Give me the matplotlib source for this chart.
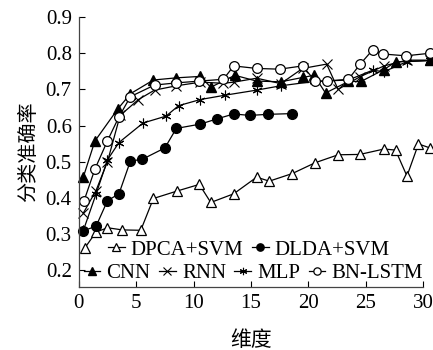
import matplotlib
matplotlib.use('Agg')
import matplotlib.pyplot as plt

plt.rcParams['font.family'] = ['Liberation Serif', 'Noto Sans CJK SC']
plt.rcParams['axes.unicode_minus'] = False

# data
dpca_x = [0.5, 1.5, 2.5, 3.8, 5.4, 6.5, 8.6, 10.5, 11.5, 13.5, 15.5, 16.6, 18.6, 20.6, 22.6, 24.5, 26.6, 27.6, 28.6, 29.6, 30.6]
dpca_y = [0.26, 0.305, 0.317, 0.311, 0.31, 0.398, 0.419, 0.437, 0.387, 0.411, 0.457, 0.446, 0.467, 0.497, 0.519, 0.52, 0.535, 0.532, 0.46, 0.549, 0.538]

dlda_x = [0.4, 1.5, 2.5, 3.5, 4.5, 5.5, 7.5, 8.5, 10.6, 12.0, 13.5, 14.9, 16.5, 18.6]
dlda_y = [0.309, 0.321, 0.392, 0.411, 0.502, 0.506, 0.538, 0.592, 0.604, 0.618, 0.632, 0.628, 0.631, 0.633]

cnn_x = [0.4, 1.4, 3.4, 4.5, 6.5, 8.5, 10.6, 11.5, 13.6, 15.5, 17.6, 19.5, 20.5, 21.5, 23.5, 24.6, 26.6, 27.6, 30.6]
cnn_y = [0.458, 0.557, 0.646, 0.688, 0.726, 0.732, 0.736, 0.706, 0.739, 0.723, 0.721, 0.733, 0.739, 0.69, 0.722, 0.722, 0.755, 0.776, 0.78]

rnn_x = [0.4, 1.5, 2.5, 3.6, 5.2, 6.6, 8.5, 10.6, 12.6, 13.5, 15.5, 17.6, 19.5, 21.6, 22.6, 24.5, 26.6, 28.6, 30.6]
rnn_y = [0.358, 0.42, 0.50, 0.628, 0.672, 0.698, 0.71, 0.72, 0.717, 0.72, 0.731, 0.716, 0.758, 0.77, 0.70, 0.735, 0.765, 0.781, 0.781]

mlp_x = [0.4, 1.5, 2.5, 3.5, 5.6, 7.6, 8.7, 10.6, 12.75, 15.5, 17.6, 20.5, 23.5, 25.6, 26.6, 28.6, 30.6]
mlp_y = [0.31, 0.41, 0.505, 0.553, 0.607, 0.626, 0.655, 0.672, 0.684, 0.698, 0.71, 0.722, 0.726, 0.753, 0.749, 0.777, 0.78]

bn_x = [0.46, 1.4, 2.5, 3.5, 4.5, 6.6, 8.5, 10.5, 12.6, 13.5, 15.5, 17.5, 19.5, 20.6, 21.6, 23.5, 24.5, 25.6, 26.5, 28.5, 30.6]
bn_y = [0.392, 0.479, 0.558, 0.624, 0.68, 0.712, 0.718, 0.723, 0.728, 0.765, 0.758, 0.756, 0.765, 0.723, 0.723, 0.728, 0.769, 0.809, 0.798, 0.793, 0.80]

fig = plt.figure(figsize=(4.33, 3.5), dpi=100)
ax = fig.add_axes([0.182, 0.18, 0.795, 0.771])

kw = dict(color='black', lw=0.9, clip_on=False)
l1, = ax.plot(dpca_x, dpca_y, marker='^', ms=7, mfc='white', mec='black', mew=0.9, label='DPCA+SVM', **kw)
l2, = ax.plot(dlda_x, dlda_y, marker='o', ms=7, mfc='black', mec='black', label='DLDA+SVM', **kw)
l3, = ax.plot(cnn_x, cnn_y, marker='^', ms=7, mfc='black', mec='black', label='CNN', **kw)
l4, = ax.plot(rnn_x, rnn_y, marker='x', ms=7, mec='black', mew=0.8, label='RNN', **kw)
l5, = ax.plot(mlp_x, mlp_y, marker=(6, 2, 0), ms=7, mec='black', mew=0.8, label='MLP', **kw)
l6, = ax.plot(bn_x, bn_y, marker='o', ms=7, mfc='white', mec='black', mew=0.9, label='BN-LSTM', **kw)

ax.set_xlim(0, 30)
ax.set_ylim(0.153, 0.9)
ax.set_xticks([0, 5, 10, 15, 20, 25, 30])
ax.set_yticks([0.2, 0.3, 0.4, 0.5, 0.6, 0.7, 0.8, 0.9])
ax.set_yticklabels(['0.2', '0.3', '0.4', '0.5', '0.6', '0.7', '0.8', '0.9'])
ax.tick_params(direction='in', labelsize=15, length=4, width=0.8, pad=5)
for s in ['top', 'right']:
    ax.spines[s].set_visible(False)
for s in ['left', 'bottom']:
    ax.spines[s].set_linewidth(0.9)
    ax.spines[s].set_color('#444444')

ax.set_xlabel('维度', fontsize=15, labelpad=13)
ax.set_ylabel('分类准确率', fontsize=14.5, labelpad=5)

legkw = dict(frameon=False, fontsize=15, handlelength=0.8, handletextpad=0.3,
             columnspacing=0.4, markerscale=0.75, borderpad=0, borderaxespad=0)
leg1 = fig.legend(handles=[l1, l2], ncol=2, loc='center',
                  bbox_to_anchor=(0.575, 0.286), **legkw)
leg2 = fig.legend(handles=[l3, l4, l5, l6], ncol=4, loc='center',
                  bbox_to_anchor=(0.585, 0.22), **legkw)

fig.savefig('out.png', dpi=100)
